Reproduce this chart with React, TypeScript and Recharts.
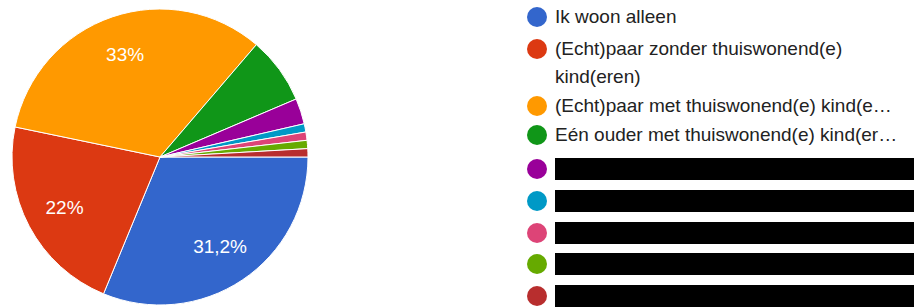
import { PieChart, Pie, Cell } from 'recharts';

// legend labels (the last five are blacked out in the source picture)
const labels = [
  'Ik woon alleen',
  '(Echt)paar zonder thuiswonend(e) kind(eren)',
  '(Echt)paar met thuiswonend(e) kind(e…',
  'Eén ouder met thuiswonend(e) kind(er…',
  '',
  '',
  '',
  '',
  '',
];
const redacted = [false, false, false, false, true, true, true, true, true];
const shares = [31.2, 22, 33, 7.3, 2.8, 0.9, 0.9, 0.9, 0.9];
const shareLabels = ['31,2%', '22%', '33%', '', '', '', '', '', ''];
const colors = ['#3366cc', '#dc3912', '#ff9900', '#109618', '#990099', '#0099c6', '#dd4477', '#66aa00', '#b82e2e'];

const data = labels.map((name, i) => ({ name: name || `item${i}`, value: shares[i], idx: i }));

// vertical centre of each legend row's marker
const rowY = [17, 49, 106, 135, 169, 201, 233, 264, 296];

const RAD = Math.PI / 180;
const FONT = '"Liberation Sans", Arial, sans-serif';

function SliceLabel(props: any) {
  const { cx, cy, midAngle, outerRadius, index } = props;
  const txt = shareLabels[index];
  if (!txt) return null;
  const r = outerRadius * 0.73;
  const x = cx + r * Math.cos(-midAngle * RAD);
  const y = cy + r * Math.sin(-midAngle * RAD);
  return (
    <text x={x} y={y} fill="#ffffff" fontSize={19} fontFamily={FONT} textAnchor="middle" dominantBaseline="central">
      {txt}
    </text>
  );
}

export default function App() {
  return (
    <div style={{ position: 'absolute', left: 0, top: 0, width: 914, height: 307, background: '#fff', overflow: 'hidden' }}>
      <div style={{ position: 'absolute', left: 0, top: 0 }}>
        <PieChart width={320} height={307}>
          <Pie
            data={data}
            dataKey="value"
            cx={155}
            cy={152}
            outerRadius={148}
            startAngle={0}
            endAngle={-360}
            stroke="#ffffff"
            strokeWidth={1}
            label={SliceLabel}
            labelLine={false}
            isAnimationActive={false}
          >
            {data.map((d) => (
              <Cell key={d.idx} fill={colors[d.idx]} />
            ))}
          </Pie>
        </PieChart>
      </div>
      {labels.map((name, i) => (
        <div
          key={i}
          style={{
            position: 'absolute',
            left: 527,
            top: rowY[i] - 14,
            width: 387,
            display: 'flex',
            alignItems: 'flex-start',
            lineHeight: '28px',
            fontFamily: FONT,
            fontSize: 19,
            color: '#222',
          }}
        >
          <span
            style={{
              width: 20,
              height: 20,
              borderRadius: '50%',
              background: colors[i],
              marginTop: 4,
              flex: 'none',
            }}
          />
          {redacted[i] ? (
            <span style={{ marginLeft: 8, marginTop: 3, height: 22, flex: 1, background: '#000' }} />
          ) : (
            <span style={{ marginLeft: 8, width: 350, whiteSpace: i === 1 ? 'normal' : 'nowrap' }}>{name}</span>
          )}
        </div>
      ))}
    </div>
  );
}
